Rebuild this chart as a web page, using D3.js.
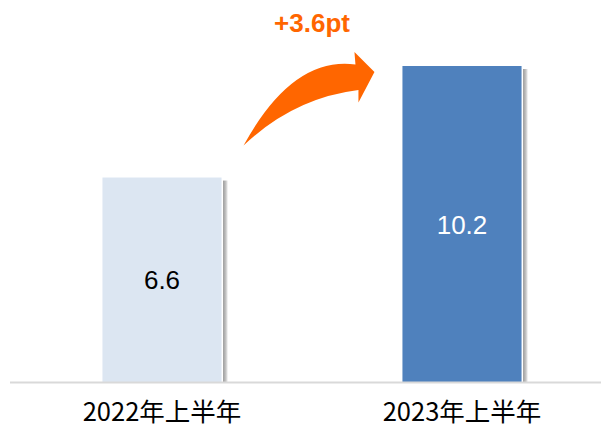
<!DOCTYPE html>
<html><head><meta charset="utf-8">
<script src="https://cdn.jsdelivr.net/npm/d3@7"></script>
<style>html,body{margin:0;padding:0;background:#fff;}svg{display:block;}</style>
</head><body>
<svg id="c" width="601" height="430"></svg>
<script>
const categories = ["2022年上半年", "2023年上半年"];
const values = [6.6, 10.2];
const valueLabels = ["6.6", "10.2"];
const barColors = ["#dce6f2", "#4f81bd"];
const labelColors = ["#000000", "#ffffff"];
const changeLabel = "+3.6pt";

const svg = d3.select("#c");
const W = 601, H = 430;
const x = d3.scaleBand().domain(categories).range([12, 612]).paddingInner(0.603).paddingOuter(0.3015);
const y = d3.scaleLinear().domain([0, 10.2]).range([382, 66]);

const defs = svg.append("defs");
const g = defs.append("linearGradient").attr("id", "sh").attr("x1", 0).attr("x2", 1).attr("y1", 0).attr("y2", 0);
g.append("stop").attr("offset", "0%").attr("stop-color", "#9a9a9a");
g.append("stop").attr("offset", "60%").attr("stop-color", "#c8c8c8");
g.append("stop").attr("offset", "100%").attr("stop-color", "#ffffff");

const bars = svg.append("g");
const data = categories.map((c, i) => ({c, v: values[i], i}));
bars.selectAll("rect.sh").data(data).join("rect").attr("class", "sh")
  .attr("x", d => x(d.c) + x.bandwidth() + 1.5)
  .attr("y", d => y(d.v) + 3)
  .attr("width", 5)
  .attr("height", d => y(0) - y(d.v) - 3)
  .attr("fill", "url(#sh)");
bars.selectAll("rect.bar").data(data).join("rect").attr("class", "bar")
  .attr("x", d => x(d.c))
  .attr("y", d => y(d.v))
  .attr("width", x.bandwidth())
  .attr("height", d => y(0) - y(d.v))
  .attr("fill", d => barColors[d.i]);

svg.append("line").attr("x1", 10).attr("x2", W).attr("y1", y(0) + 0.5).attr("y2", y(0) + 0.5)
  .attr("stroke", "#d9d9d9").attr("stroke-width", 2);

svg.append("g").selectAll("text").data(data).join("text")
  .attr("x", d => x(d.c) + x.bandwidth() / 2)
  .attr("y", d => (y(d.v) + y(0)) / 2 + 9.5)
  .attr("text-anchor", "middle")
  .attr("font-family", "Arial, 'Liberation Sans', sans-serif")
  .attr("font-size", 26)
  .attr("fill", d => labelColors[d.i])
  .text(d => valueLabels[d.i]);

svg.append("g").selectAll("text").data(data).join("text")
  .attr("x", d => x(d.c) + x.bandwidth() / 2)
  .attr("y", 421)
  .attr("text-anchor", "middle")
  .attr("font-family", "'Noto Sans CJK SC', sans-serif")
  .attr("font-size", 25.5)
  .attr("fill", "#000")
  .text(d => d.c);

const x0 = x(categories[0]) + x.bandwidth(), x1 = x(categories[1]);
const yTop = y(values[1]);
const tail = [x0 + 22, y(values[0]) - 32];
const tip = [x1 - 28, yTop + 6];
const p = d3.path();
p.moveTo(tail[0], tail[1]);
p.quadraticCurveTo(tip[0] - 82, tip[1] - 16, tip[0] - 19, tip[1] - 7.5);
p.lineTo(tip[0] - 20, tip[1] - 20);
p.lineTo(tip[0], tip[1]);
p.lineTo(tip[0] - 16, tip[1] + 30.5);
p.lineTo(tip[0] - 16, tip[1] + 18);
p.quadraticCurveTo(tip[0] - 81, tip[1] + 26, tail[0], tail[1]);
p.closePath();
svg.append("path").attr("d", p.toString()).attr("fill", "#ff6600");

svg.append("text")
  .attr("x", (x0 + x1) / 2)
  .attr("y", 32)
  .attr("text-anchor", "middle")
  .attr("font-family", "Arial, 'Liberation Sans', sans-serif")
  .attr("font-weight", "bold")
  .attr("font-size", 26)
  .attr("fill", "#ff6600")
  .text(changeLabel);
</script>
</body></html>
